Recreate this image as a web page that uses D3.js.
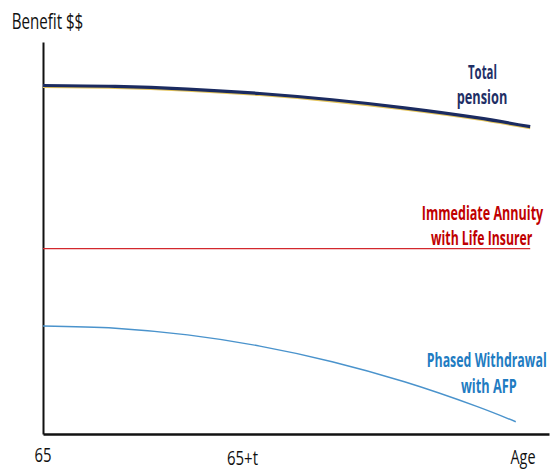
<!DOCTYPE html>
<html>
<head>
<meta charset="utf-8">
<script src="https://cdn.jsdelivr.net/npm/d3@7/dist/d3.min.js"></script>
<style>
  html, body { margin: 0; padding: 0; background: #fff; }
  svg { display: block; }
  text { font-family: "Open Sans", "Noto Sans", sans-serif; }
</style>
</head>
<body>
<svg id="chart" width="551" height="470"></svg>
<script>
// Ages along the horizontal axis
const ages = [65, 70, 75, 80, 85, 90, 95, 98.7];
const phasedAges = [65, 70, 75, 80, 85, 90, 95, 97.7];

// Benefit levels (relative units)
const totalPension = [88.9, 88.67, 87.98, 86.86, 85.26, 83.21, 80.71, 78.4];
const annuity = [47.3, 47.3, 47.3, 47.3, 47.3, 47.3, 47.3, 47.3];
const phasedWithdrawal = [27.55, 26.99, 25.28, 22.42, 18.44, 13.32, 7.04, 3.13];

// Axis labels
const xTickLabels = [
  { age: 65, text: "65", dy: 0 },
  { age: 78.8, text: "65+t", dy: 3 },
  { age: 98.2, text: "Age", dy: 2 }
];

const svg = d3.select("#chart");

const x = d3.scaleLinear().domain([65, 100]).range([43, 549]);
const y = d3.scaleLinear().domain([0, 100]).range([434, 42]);

// Axes: domain lines only
svg.append("g")
  .attr("transform", `translate(0,${y(0)})`)
  .call(d3.axisBottom(x).tickValues([]).tickSizeOuter(0))
  .call(g => g.select(".domain").attr("stroke", "#111").attr("stroke-width", 2.6));

svg.append("g")
  .attr("transform", `translate(${x(65)},0)`)
  .call(d3.axisLeft(y).tickValues([]).tickSizeOuter(0))
  .call(g => g.select(".domain").attr("stroke", "#111").attr("stroke-width", 2));

const line = d3.line()
  .x(d => x(d[0]))
  .y(d => y(d[1]))
  .curve(d3.curveCatmullRom);

// Total pension: dark line with a thin gold edge beneath
const totalData = d3.zip(ages, totalPension);
svg.append("path")
  .datum(totalData)
  .attr("d", line)
  .attr("fill", "none")
  .attr("stroke", "#e3c35a")
  .attr("stroke-width", 2)
  .attr("transform", "translate(0,1.6)");
svg.append("path")
  .datum(totalData)
  .attr("d", line)
  .attr("fill", "none")
  .attr("stroke", "#1b2b60")
  .attr("stroke-width", 3.2);

// Immediate annuity
svg.append("path")
  .datum(d3.zip(ages, annuity))
  .attr("d", line)
  .attr("fill", "none")
  .attr("stroke", "#d3282d")
  .attr("stroke-width", 1.3);

// Phased withdrawal
svg.append("path")
  .datum(d3.zip(phasedAges, phasedWithdrawal))
  .attr("d", line)
  .attr("fill", "none")
  .attr("stroke", "#4a93cc")
  .attr("stroke-width", 1.4);

// Text helper: condensed glyphs, squeezed horizontally to a set width
function label(txt, cx, baseline, width, size, color, weight) {
  const t = svg.append("text")
    .attr("text-anchor", "middle")
    .attr("font-size", size)
    .attr("font-weight", weight || "normal")
    .attr("fill", color)
    .text(txt);
  const natural = t.node().getComputedTextLength() || width;
  t.attr("transform", `translate(${cx},${baseline}) scale(${width / natural},1)`);
}

label("Benefit $$", 47.5, 29.3, 71.6, 21.5, "#111");

const xLabelWidths = { "65": 17, "65+t": 31, "Age": 25 };
xTickLabels.forEach(t => {
  label(t.text, x(t.age), 462 + t.dy, xLabelWidths[t.text], 20.5, "#111");
});

label("Total", 482.5, 79, 29, 20, "#1f2f66", "bold");
label("pension", 482, 104, 50.6, 20, "#1f2f66", "bold");

label("Immediate Annuity", 482.5, 220, 121.6, 20, "#c00000", "bold");
label("with Life Insurer", 481.7, 245, 101.3, 20, "#c00000", "bold");

label("Phased Withdrawal", 486.7, 366.7, 120, 20, "#1f7cc2", "bold");
label("with AFP", 488.8, 393.3, 55.7, 20, "#1f7cc2", "bold");
</script>
</body>
</html>
